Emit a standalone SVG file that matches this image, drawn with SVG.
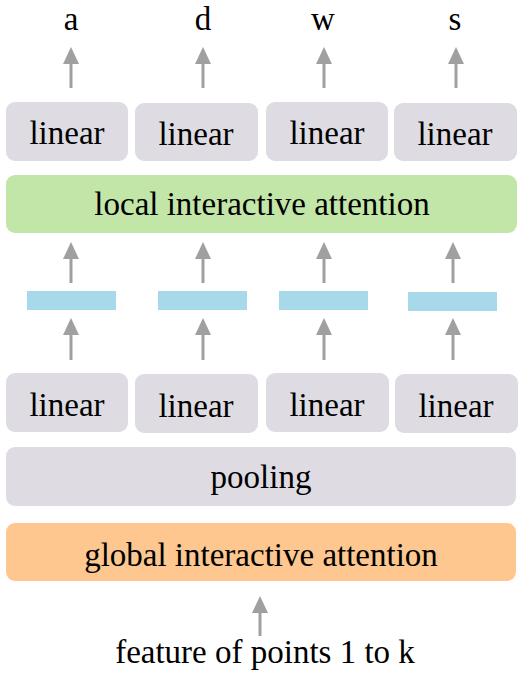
<svg xmlns="http://www.w3.org/2000/svg" width="532" height="685" viewBox="0 0 532 685">
<style>
.t{font-family:'Liberation Serif','Times New Roman',serif;font-size:33px;fill:#000;text-anchor:middle}
.g{fill:#dedce2}
.gr{fill:#c2e6a7}
.bl{fill:#a8d9ea}
.or{fill:#fdc78f}
.c line{stroke:#a0a0a0;stroke-width:3;marker-end:url(#ah)}
</style>
<defs>
<marker id="ah" markerUnits="userSpaceOnUse" markerWidth="17" markerHeight="16" refX="1" refY="8" orient="auto" viewBox="0 0 17 16">
<path d="M0 0 L17 8 L0 16 Z" fill="#a0a0a0"/>
</marker>
</defs>
<rect width="532" height="685" fill="#fff"/>
<g id="out-a"><text class="t" x="71" y="30">a</text></g>
<g id="out-d"><text class="t" x="203" y="30">d</text></g>
<g id="out-w"><text class="t" x="323" y="30">w</text></g>
<g id="out-s"><text class="t" x="455" y="30">s</text></g>
<g id="lin-top-1"><rect class="g" x="6" y="102" width="122" height="59" rx="9"/><text class="t" x="67" y="144">linear</text></g>
<g id="lin-top-2"><rect class="g" x="135" y="103" width="123" height="58" rx="9"/><text class="t" x="196" y="145">linear</text></g>
<g id="lin-top-3"><rect class="g" x="266" y="102" width="122" height="59" rx="9"/><text class="t" x="327" y="144">linear</text></g>
<g id="lin-top-4"><rect class="g" x="394" y="103" width="123" height="58" rx="9"/><text class="t" x="455" y="145">linear</text></g>
<g id="local-attn"><rect class="gr" x="6" y="175" width="511" height="58" rx="9"/><text class="t" x="262" y="215">local interactive attention</text></g>
<g id="vec-1"><rect class="bl" x="27" y="291" width="89" height="19"/></g>
<g id="vec-2"><rect class="bl" x="158" y="291" width="89" height="19"/></g>
<g id="vec-3"><rect class="bl" x="279" y="291" width="89" height="19"/></g>
<g id="vec-4"><rect class="bl" x="408" y="292" width="89" height="19"/></g>
<g id="lin-bot-1"><rect class="g" x="6" y="373" width="122" height="59" rx="9"/><text class="t" x="67" y="416">linear</text></g>
<g id="lin-bot-2"><rect class="g" x="135" y="374" width="123" height="59" rx="9"/><text class="t" x="196" y="417">linear</text></g>
<g id="lin-bot-3"><rect class="g" x="266" y="373" width="123" height="59" rx="9"/><text class="t" x="327" y="416">linear</text></g>
<g id="lin-bot-4"><rect class="g" x="395" y="374" width="123" height="59" rx="9"/><text class="t" x="456" y="417">linear</text></g>
<g id="pooling"><rect class="g" x="6" y="447" width="510" height="59" rx="9"/><text class="t" x="261" y="488">pooling</text></g>
<g id="global-attn"><rect class="or" x="6" y="523" width="510" height="58" rx="9"/><text class="t" x="261" y="566">global interactive attention</text></g>
<g id="input"><text class="t" x="265" y="663">feature of points 1 to k</text></g>
<g class="c" id="connectors">
<line x1="71" y1="88" x2="71" y2="63"/>
<line x1="203" y1="88" x2="203" y2="63"/>
<line x1="324" y1="88" x2="324" y2="63"/>
<line x1="456" y1="88" x2="456" y2="63"/>
<line x1="71" y1="283" x2="71" y2="258"/>
<line x1="203" y1="283" x2="203" y2="258"/>
<line x1="324" y1="283" x2="324" y2="258"/>
<line x1="453" y1="283" x2="453" y2="258"/>
<line x1="71" y1="360" x2="71" y2="334"/>
<line x1="203" y1="360" x2="203" y2="334"/>
<line x1="324" y1="360" x2="324" y2="334"/>
<line x1="453" y1="360" x2="453" y2="334"/>
<line x1="260" y1="636" x2="260" y2="612"/>
</g>
</svg>
